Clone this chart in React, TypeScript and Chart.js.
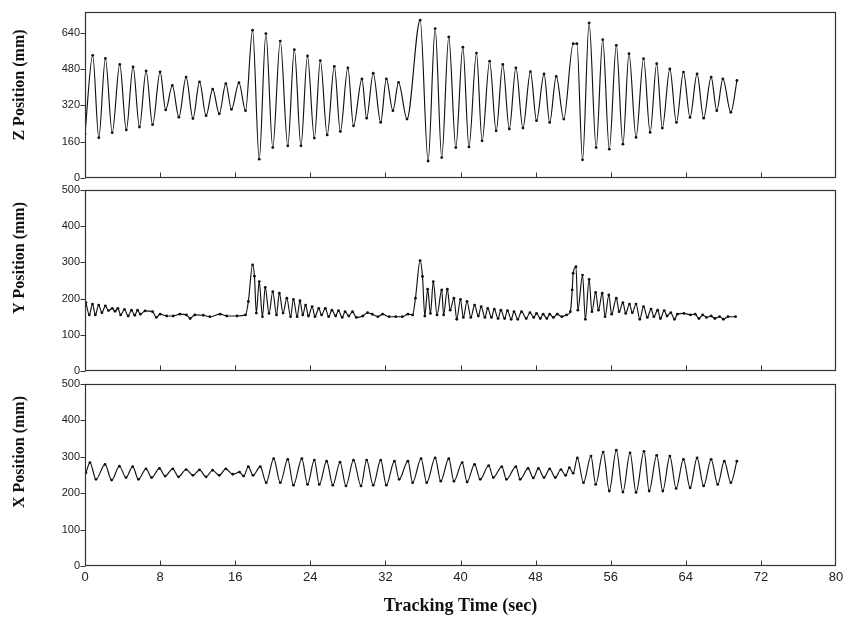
import React, { useEffect, useRef } from 'react';
import { Chart, registerables } from 'chart.js';

Chart.register(...registerables);

// ---- data (time in sec, position in mm) ----
const xTickStep = 8;
const timeMax = 80;

const zSeries: [number, number][] = [
  [0, 195], [0.82, 541], [1.47, 178], [2.17, 527], [2.9, 200], [3.7, 501], [4.4, 212], [5.12, 490],
  [5.8, 225], [6.51, 472], [7.2, 235], [8.0, 468], [8.6, 300], [9.3, 408], [10.0, 268], [10.77, 445],
  [11.5, 262], [12.2, 424], [12.9, 275], [13.6, 392], [14.3, 283], [15.0, 416], [15.6, 303], [16.4, 420],
  [17.1, 297], [17.85, 652], [18.56, 83], [19.27, 637], [20.0, 134], [20.8, 604], [21.6, 142], [22.3, 566],
  [23.0, 142], [23.7, 538], [24.43, 176], [25.07, 518], [25.8, 190], [26.56, 492], [27.2, 205], [28.0, 486],
  [28.6, 230], [29.5, 437], [30.0, 264], [30.7, 462], [31.5, 245], [32.1, 437], [32.8, 297], [33.4, 422],
  [34.3, 260], [35.7, 696], [36.55, 75], [37.3, 659], [38.0, 90], [38.75, 622], [39.5, 134], [40.25, 577],
  [40.9, 137], [41.7, 551], [42.3, 164], [43.1, 515], [43.8, 208], [44.5, 501], [45.2, 216], [45.9, 486],
  [46.65, 220], [47.45, 469], [48.1, 253], [48.9, 459], [49.5, 245], [50.2, 448], [51.0, 260], [52.0, 592],
  [52.4, 592], [53.0, 80], [53.7, 684], [54.45, 134], [55.15, 610], [55.85, 127], [56.6, 585], [57.3, 149],
  [57.95, 548], [58.7, 179], [59.5, 526], [60.2, 201], [60.9, 504], [61.5, 220], [62.3, 481], [63.0, 245],
  [63.75, 467], [64.45, 267], [65.2, 459], [65.9, 264], [66.7, 445], [67.3, 297], [67.95, 437], [68.8, 290],
  [69.45, 430],
];

const ySeries: [number, number][] = [
  [0.1, 189], [0.46, 155], [0.8, 185], [1.1, 155], [1.46, 182], [1.8, 161], [2.17, 180], [2.5, 167],
  [2.9, 173], [3.2, 165], [3.5, 173], [3.8, 155], [4.2, 170], [4.6, 152], [4.95, 168], [5.3, 154],
  [5.6, 168], [5.9, 157], [6.4, 166], [7.2, 164], [7.6, 148], [8.0, 157], [8.7, 152], [9.4, 152],
  [10.1, 157], [10.8, 155], [11.2, 145], [11.7, 155], [12.6, 154], [13.3, 150], [14.4, 157], [15.1, 152],
  [16.2, 152], [17.1, 155], [17.4, 192], [17.85, 293], [18.05, 262], [18.25, 160], [18.56, 247], [18.9, 150],
  [19.2, 231], [19.6, 159], [20.0, 219], [20.4, 155], [20.7, 215], [21.1, 160], [21.5, 201], [21.9, 150],
  [22.2, 198], [22.6, 150], [22.9, 194], [23.2, 155], [23.5, 182], [23.8, 152], [24.2, 178], [24.5, 150],
  [24.9, 173], [25.2, 155], [25.6, 173], [25.96, 150], [26.3, 168], [26.7, 152], [27.0, 167], [27.4, 148],
  [27.7, 164], [28.1, 152], [28.5, 164], [28.9, 148], [29.6, 152], [30.1, 161], [30.6, 157], [31.2, 150],
  [31.7, 157], [32.4, 150], [33.1, 150], [33.8, 150], [34.4, 157], [34.9, 155], [35.2, 201], [35.7, 305],
  [35.95, 261], [36.2, 152], [36.5, 226], [36.8, 159], [37.1, 247], [37.5, 155], [38.0, 224], [38.2, 155],
  [38.6, 226], [38.9, 168], [39.3, 201], [39.6, 143], [40.0, 198], [40.3, 148], [40.7, 192], [41.1, 148],
  [41.5, 182], [41.9, 152], [42.2, 178], [42.6, 148], [42.9, 173], [43.3, 148], [43.6, 171], [44.0, 145],
  [44.3, 168], [44.7, 145], [45.0, 167], [45.4, 143], [45.7, 164], [46.1, 143], [46.5, 164], [47.0, 145],
  [47.4, 161], [47.8, 148], [48.1, 159], [48.5, 145], [48.8, 157], [49.2, 145], [49.5, 157], [49.9, 148],
  [50.3, 157], [50.8, 150], [51.3, 155], [51.7, 164], [51.9, 224], [52.0, 270], [52.3, 288], [52.5, 168],
  [53.0, 265], [53.3, 143], [53.7, 253], [54.0, 164], [54.4, 217], [54.7, 168], [55.1, 215], [55.4, 150],
  [55.8, 210], [56.1, 157], [56.6, 201], [56.9, 164], [57.3, 189], [57.6, 159], [58.0, 185], [58.3, 161],
  [58.7, 185], [59.1, 143], [59.5, 178], [59.9, 148], [60.3, 171], [60.6, 150], [61.0, 168], [61.3, 145],
  [61.7, 167], [62.0, 152], [62.4, 161], [62.8, 143], [63.1, 157], [63.8, 159], [64.5, 155], [65.0, 157],
  [65.4, 145], [65.8, 155], [66.2, 148], [66.7, 152], [67.1, 145], [67.6, 150], [68.0, 143], [68.5, 150],
  [69.3, 150],
];

const xSeries: [number, number][] = [
  [0.1, 256], [0.53, 284], [1.17, 238], [2.13, 279], [2.84, 236], [3.66, 274], [4.37, 243], [5.08, 273],
  [5.69, 238], [6.5, 267], [7.1, 243], [7.93, 268], [8.53, 247], [9.35, 267], [9.96, 245], [10.77, 265],
  [11.5, 249], [12.2, 264], [12.9, 245], [13.6, 263], [14.3, 249], [15.0, 267], [15.75, 252], [16.46, 258],
  [16.9, 247], [17.4, 273], [17.9, 249], [18.67, 273], [19.3, 229], [20.1, 295], [20.8, 229], [21.6, 293],
  [22.2, 222], [23.1, 295], [23.7, 224], [24.43, 291], [24.96, 224], [25.74, 288], [26.4, 222], [27.17, 285],
  [27.8, 220], [28.6, 291], [29.4, 220], [30.0, 291], [30.7, 222], [31.5, 291], [32.1, 222], [32.96, 288],
  [33.46, 238], [34.4, 288], [34.9, 229], [35.8, 295], [36.4, 229], [37.3, 297], [37.9, 233], [38.75, 295],
  [39.3, 233], [40.18, 284], [40.7, 231], [41.5, 279], [42.1, 238], [43.0, 276], [43.5, 243], [44.4, 273],
  [44.9, 238], [45.9, 273], [46.35, 238], [47.2, 268], [47.75, 242], [48.3, 268], [48.9, 243], [49.5, 267],
  [50.1, 243], [50.7, 265], [51.2, 249], [51.6, 270], [52.0, 255], [52.45, 297], [53.1, 229], [53.9, 302],
  [54.4, 224], [55.2, 313], [55.85, 206], [56.6, 318], [57.3, 203], [58.06, 311], [58.7, 202], [59.55, 315],
  [60.1, 206], [60.9, 304], [61.55, 206], [62.3, 302], [62.97, 213], [63.75, 293], [64.46, 215], [65.2, 297],
  [65.9, 220], [66.7, 293], [67.4, 224], [68.1, 288], [68.8, 229], [69.44, 288],
];

const panelTitles = ['Z Position (mm)', 'Y Position (mm)', 'X Position (mm)'];
const panelMax = [732, 500, 500];
const panelStep = [160, 100, 100];
const xAxisTitle = 'Tracking Time (sec)';

// ---- layout (not data) ----
const W = 845;
const SANS = '"Liberation Sans", Arial, sans-serif';
const SERIF = '"Liberation Serif", "Times New Roman", serif';

type PanelCfg = {
  series: [number, number][];
  title: string;
  max: number;
  step: number;
  top: number;
  height: number;
  padTop: number;
  padBottom: number;
  xHeight: number;
  showX: boolean;
  titleY: number;
};

const panels: PanelCfg[] = [
  { series: zSeries, title: panelTitles[0], max: panelMax[0], step: panelStep[0], top: 0, height: 190, padTop: 12, padBottom: 12, xHeight: 0, showX: false, titleY: 85 },
  { series: ySeries, title: panelTitles[1], max: panelMax[1], step: panelStep[1], top: 180, height: 200, padTop: 10, padBottom: 9, xHeight: 0, showX: false, titleY: 78 },
  { series: xSeries, title: panelTitles[2], max: panelMax[2], step: panelStep[2], top: 374, height: 250, padTop: 10, padBottom: 0, xHeight: 58, showX: true, titleY: 78 },
];

const framePlugin = {
  id: 'frame',
  afterDraw(chart: any, _args: any, opts: any) {
    const { ctx, chartArea, scales } = chart;
    const { left, right, top, bottom } = chartArea;
    ctx.save();
    ctx.strokeStyle = '#333';
    ctx.lineWidth = 1.2;
    const L = Math.round(left) + 0.5;
    const T = Math.round(top) + 0.5;
    const R = Math.round(right) - 0.5;
    const B = Math.round(bottom) - 0.5;
    ctx.strokeRect(L, T, R - L, B - T);
    ctx.lineWidth = 1;
    ctx.beginPath();
    const xs = scales.x;
    xs.ticks.forEach((t: any) => {
      if (t.value <= xs.min || t.value >= xs.max) return;
      const px = Math.round(xs.getPixelForValue(t.value)) + 0.5;
      ctx.moveTo(px, B);
      ctx.lineTo(px, B - 5);
    });
    const ys = scales.y;
    ys.ticks.forEach((t: any) => {
      const py = Math.round(ys.getPixelForValue(t.value)) + 0.5;
      ctx.moveTo(L - 5, py);
      ctx.lineTo(L, py);
    });
    ctx.stroke();
    // rotated y-axis title
    ctx.translate(20, opts.titleY);
    ctx.rotate(-Math.PI / 2);
    ctx.fillStyle = '#111';
    ctx.font = `bold 16px ${SERIF}`;
    ctx.textAlign = 'center';
    ctx.textBaseline = 'middle';
    ctx.fillText(opts.title, 0, 0);
    ctx.restore();
  },
};

function Panel({ cfg }: { cfg: PanelCfg }) {
  const ref = useRef<HTMLCanvasElement | null>(null);
  useEffect(() => {
    if (!ref.current) return;
    const chart = new Chart(ref.current, {
      type: 'line',
      data: {
        datasets: [
          {
            data: cfg.series.map(([x, y]) => ({ x, y })),
            borderColor: '#111',
            borderWidth: 1.15,
            pointRadius: 1.4,
            pointBackgroundColor: '#111',
            pointBorderWidth: 0,
            cubicInterpolationMode: 'monotone',
            fill: false,
          },
        ],
      },
      options: {
        responsive: false,
        animation: false,
        devicePixelRatio: 1,
        layout: { padding: { left: 0, right: 9, top: cfg.padTop, bottom: cfg.padBottom } },
        plugins: {
          legend: { display: false },
          tooltip: { enabled: false },
          frame: { title: cfg.title, titleY: cfg.titleY },
        } as any,
        scales: {
          x: {
            type: 'linear',
            min: 0,
            max: timeMax,
            grid: { display: false, drawTicks: false },
            border: { display: false },
            ticks: {
              display: cfg.showX,
              stepSize: xTickStep,
              autoSkip: false,
              maxRotation: 0,
              padding: 4,
              color: '#222',
              font: { family: SANS, size: 13 },
            },
            title: {
              display: cfg.showX,
              text: xAxisTitle,
              color: '#111',
              font: { family: SERIF, size: 18, weight: 'bold' },
              padding: { top: 0, bottom: 7 },
            },
            afterFit: (s: any) => {
              s.height = cfg.xHeight;
              s.paddingLeft = 0;
              s.paddingRight = 0;
            },
          },
          y: {
            type: 'linear',
            min: 0,
            max: cfg.max,
            grid: { display: false, drawTicks: false },
            border: { display: false },
            ticks: {
              stepSize: cfg.step,
              includeBounds: false,
              padding: 5,
              color: '#222',
              font: { family: SANS, size: 11 },
            },
            afterFit: (s: any) => {
              s.width = 85;
              s.paddingTop = 0;
              s.paddingBottom = 0;
            },
          },
        },
      } as any,
      plugins: [framePlugin],
    });
    return () => chart.destroy();
  }, [cfg]);
  return (
    <canvas
      ref={ref}
      width={W}
      height={cfg.height}
      style={{ position: 'absolute', left: 0, top: cfg.top, width: W, height: cfg.height }}
    />
  );
}

export default function App() {
  return (
    <div style={{ position: 'fixed', left: 0, top: 0, width: W, height: 624, background: '#fff', overflow: 'hidden' }}>
      {panels.map((p, i) => (
        <Panel key={i} cfg={p} />
      ))}
    </div>
  );
}
